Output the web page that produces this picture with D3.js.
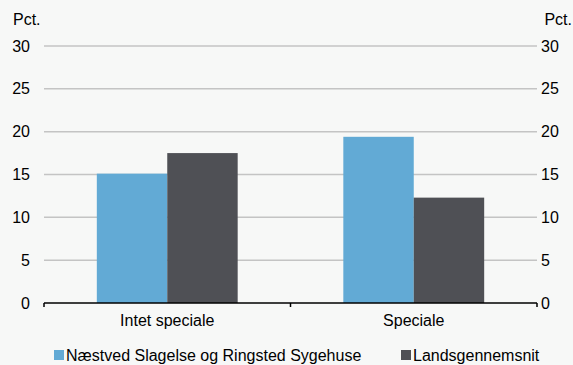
<!DOCTYPE html>
<html><head><meta charset="utf-8">
<script src="https://cdn.jsdelivr.net/npm/d3@7"></script>
<style>
html,body{margin:0;padding:0;background:#f7f8f7;}
svg{display:block;font-family:"Liberation Sans",Arial,sans-serif;}
</style></head>
<body><svg id="c" width="573" height="365"></svg>
<script>
const categories = ["Intet speciale", "Speciale"];
const seriesNames = ["Næstved Slagelse og Ringsted Sygehuse", "Landsgennemsnit"];
const seriesLocal = [15.1, 19.4];
const seriesNational = [17.5, 12.3];
const yTicks = [0, 5, 10, 15, 20, 25, 30];
const colors = ["#62aad5", "#4f5055"];

const svg = d3.select("#c");
const W = 573, H = 365;
const FS = 16;
const m = {left: 44, right: 36, top: 46, bottom: 62};
const x0 = d3.scaleBand().domain(categories).range([m.left, W - m.right]).paddingInner(0).paddingOuter(0);
const x1 = d3.scaleBand().domain(seriesNames).range([0, x0.bandwidth()]).paddingInner(0).paddingOuter(0.75);
const y = d3.scaleLinear().domain([0, 30]).range([H - m.bottom, m.top]);

// gridlines
svg.append("g").selectAll("line").data(yTicks.filter(d => d > 0)).join("line")
  .attr("x1", m.left).attr("x2", W - m.right)
  .attr("y1", d => y(d)).attr("y2", d => y(d))
  .attr("stroke", "#c4c4c4").attr("stroke-width", 1.5);

// bars
const data = categories.map((c, i) => ({c, vals: [seriesLocal[i], seriesNational[i]]}));
const g = svg.append("g").selectAll("g").data(data).join("g")
  .attr("transform", d => `translate(${x0(d.c)},0)`);
g.selectAll("rect").data(d => d.vals.map((v, j) => ({v, s: seriesNames[j], j}))).join("rect")
  .attr("x", d => x1(d.s)).attr("width", x1.bandwidth())
  .attr("y", d => y(d.v)).attr("height", d => y(0) - y(d.v))
  .attr("fill", d => colors[d.j]);

// x axis
const xAxis = d3.axisBottom(x0).tickSize(0).tickPadding(12);
const xa = svg.append("g").attr("transform", `translate(0,${y(0)})`).call(xAxis);
xa.select(".domain").remove();
xa.selectAll("text").attr("font-size", FS).attr("fill", "#000").attr("font-family", "Liberation Sans, Arial, sans-serif");
svg.append("line").attr("x1", m.left).attr("x2", W - m.right).attr("y1", y(0)).attr("y2", y(0))
  .attr("stroke", "#000").attr("stroke-width", 1.5);
const boundaries = [m.left, x0(categories[1]), W - m.right];
svg.append("g").selectAll("line").data(boundaries).join("line")
  .attr("x1", d => d).attr("x2", d => d).attr("y1", y(0)).attr("y2", y(0) + 4)
  .attr("stroke", "#000").attr("stroke-width", 1.5);

// y axes
const yl = d3.axisLeft(y).tickValues(yTicks).tickSize(0).tickPadding(14);
const ya = svg.append("g").attr("transform", `translate(${m.left},0)`).call(yl);
ya.select(".domain").remove();
ya.selectAll("text").attr("font-size", FS).attr("fill", "#000").attr("font-family", "Liberation Sans, Arial, sans-serif");
const yr = d3.axisRight(y).tickValues(yTicks).tickSize(0).tickPadding(4);
const yra = svg.append("g").attr("transform", `translate(${W - m.right},0)`).call(yr);
yra.select(".domain").remove();
yra.selectAll("text").attr("font-size", FS).attr("fill", "#000").attr("font-family", "Liberation Sans, Arial, sans-serif");

svg.append("text").attr("x", 13).attr("y", 25).attr("font-size", FS).text("Pct.");
svg.append("text").attr("x", 572).attr("y", 25).attr("text-anchor", "end").attr("font-size", FS).text("Pct.");

// legend
const legX = [54, 401];
const lg = svg.append("g").selectAll("g").data(seriesNames).join("g")
  .attr("transform", (d, i) => `translate(${legX[i]},350)`);
lg.append("rect").attr("width", 10).attr("height", 10).attr("fill", (d, i) => colors[i]);
lg.append("text").attr("x", 12).attr("y", 10.5).attr("font-size", FS).text(d => d);
</script></body></html>
